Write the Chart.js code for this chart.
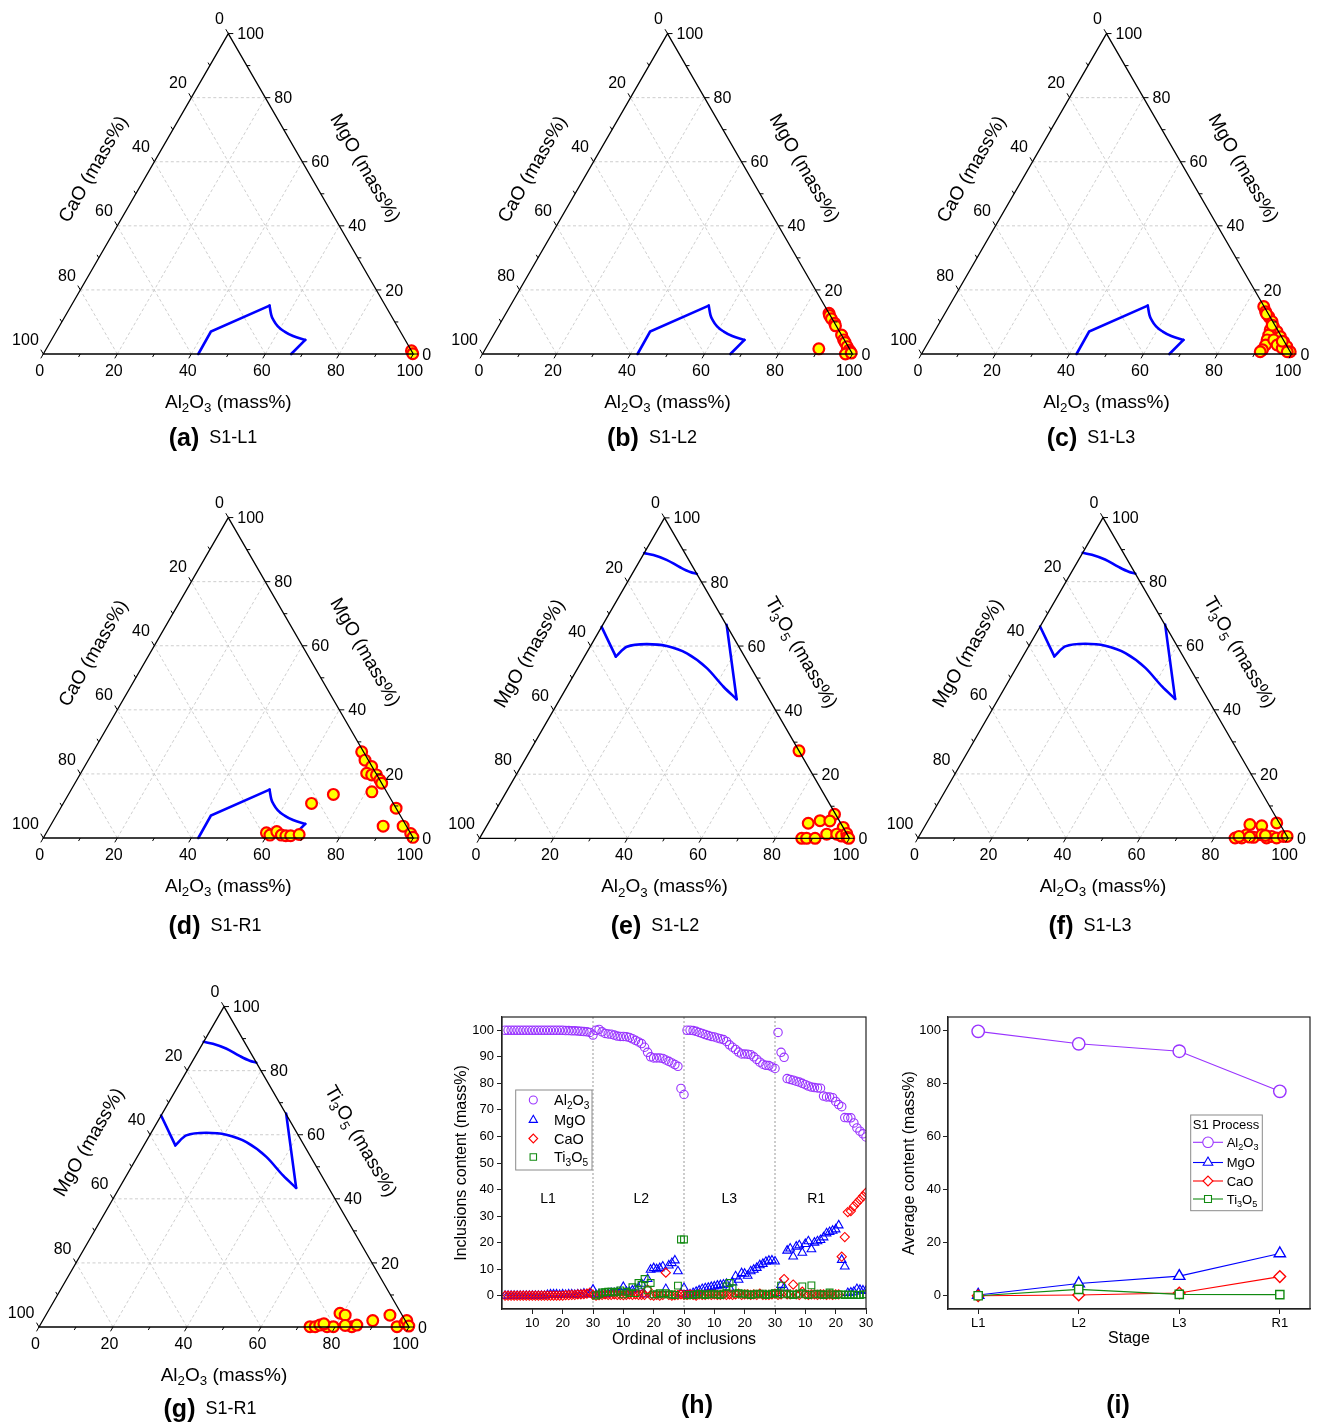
<!DOCTYPE html>
<html><head><meta charset="utf-8">
<script src="https://cdn.jsdelivr.net/npm/chart.js@4.4.1/dist/chart.umd.min.js"></script>
<style>
html,body{margin:0;padding:0;background:#fff;}
body{width:1325px;height:1422px;position:relative;overflow:hidden;}
canvas{position:absolute;}
</style></head><body>
<canvas id="ta"></canvas><canvas id="tb"></canvas><canvas id="tc"></canvas>
<canvas id="td"></canvas><canvas id="te"></canvas><canvas id="tf"></canvas>
<canvas id="tg"></canvas><canvas id="ch"></canvas><canvas id="ci"></canvas>
<script>
// ================= DATA =================
const ternTicks = [0, 20, 40, 60, 80, 100];
const ternGrid = [20, 40, 60, 80];

// liquid region, Al2O3-MgO-CaO system (Al2O3 / MgO, CaO = rest)
const caoBoundary_Al2O3 = [41.9, 41.8, 53.6, 55.5, 57.0, 59.1, 61.7, 64.7, 68.6, 67.0];
const caoBoundary_MgO   = [0, 7.0, 15.1, 12.2, 10.5, 8.6, 7.0, 5.6, 4.4, 0];
// liquid regions, Al2O3-MgO-Ti3O5 system (Al2O3 / Ti3O5, MgO = rest)
const tiUpper_Al2O3 = [0, 2.8, 7.1, 11.9, 15.4, 17.5];
const tiUpper_Ti3O5 = [89.0, 88.4, 86.9, 84.6, 83.1, 82.5];
const tiLower_Al2O3 = [0, 8.5, 9.9, 14.9, 20.6, 27.2, 34.9, 42.3, 47.8, 33.5];
const tiLower_Ti3O5 = [66.0, 56.7, 59.8, 60.6, 60.0, 57.7, 53.1, 47.3, 43.4, 66.6];

// (a) S1-L1
const a_Al2O3 = [99.0, 99.8];
const a_MgO   = [1.0, 0.1];
// (b) S1-L2
const b_Al2O3 = [87.3, 87.8, 88.8, 90.4, 91.0, 94.1, 95.4, 96.2, 97.4, 98.5, 99.1, 98.1, 99.5, 90.1];
const b_MgO   = [12.7, 12.0, 11.0, 9.6, 8.8, 5.9, 4.4, 3.6, 2.3, 1.2, 0.7, 0.0, 0.3, 1.6];
// (c) S1-L3
const c_Al2O3 = [85.1, 86.4, 88.1, 89.7, 90.9, 92.6, 94.3, 96.0, 97.6, 99.3, 90.5, 90.9, 91.2, 91.6, 91.5, 91.2, 93.0, 94.7, 96.6, 98.5, 90.3, 87.0, 95.5];
const c_MgO   = [14.8, 13.2, 11.6, 10.1, 8.5, 7.0, 5.4, 3.8, 2.3, 0.7, 7.5, 5.9, 4.4, 2.8, 1.3, 0.7, 4.4, 2.8, 1.8, 0.7, 9.0, 12.5, 4.0];
// (d) S1-R1
const d_Al2O3 = [72.6, 74.8, 77.6, 77.3, 78.9, 80.2, 81.9, 82.9, 81.6, 90.7, 90.0, 95.4, 98.6, 99.8, 67.1, 71.6, 59.5, 60.8, 62.1, 63.9, 65.2, 66.5, 68.6];
const d_MgO   = [26.9, 24.3, 22.3, 20.2, 19.7, 19.7, 18.1, 17.1, 14.4, 9.3, 3.7, 3.7, 1.4, 0.2, 10.8, 13.6, 1.6, 0.9, 2.0, 0.9, 0.7, 0.7, 1.1];
// (e) S1-L2
const e_Al2O3 = [72.7, 92.2, 86.5, 89.3, 92.0, 96.6, 93.2, 95.9, 87.1, 88.4, 90.7, 97.5, 98.5, 99.2, 99.8];
const e_Ti3O5 = [27.3, 7.5, 4.7, 5.5, 5.4, 3.4, 1.3, 1.3, 0.0, 0.0, 0.0, 0.7, 1.5, 0.3, 0.0];
// (f) S1-L3
const f_Al2O3 = [85.7, 87.5, 88.3, 87.6, 91.0, 90.6, 92.4, 94.2, 95.3, 96.9, 98.5, 99.5, 94.6, 86.5, 89.5, 93.5];
const f_Ti3O5 = [0.0, 0.0, 1.0, 4.2, 3.8, 0.2, 1.0, 0.0, 0.5, 0.0, 0.5, 0.5, 4.7, 0.5, 0.3, 0.8];
// (g) S1-R1
const g_Al2O3 = [73.2, 74.6, 75.6, 77.8, 79.5, 79.2, 80.9, 84.5, 85.6, 89.2, 93.0, 96.7, 98.3, 98.4, 99.8, 76.5, 82.5];
const g_Ti3O5 = [0.1, 0.1, 0.6, 0.1, 0.1, 4.3, 3.7, 0.1, 0.6, 2.0, 3.7, 0.1, 1.2, 2.0, 0.3, 1.0, 0.5];

// (h) inclusions content, 30 inclusions per stage
const L1_Al2O3 = [100,100,100,100,100,100,100,100,100,100,100,100,100,100,100,100,100,100,100,100,99.9,99.9,99.8,99.8,99.7,99.6,99.5,99.4,99.2,98.2];
const L1_MgO   = [0,0,0,0,0,0,0,0,0,0,0,0,0,0,0.3,0.5,0.5,0.5,0.3,0.5,0.3,0.5,0.5,0.3,0.5,0.5,0.8,0.5,0.8,2.3];
const L1_CaO   = [0,0,0,0,0,0,0,0,0,0,0,0,0,0,0,0,0,0,0,0,0.2,0.2,0.3,0.3,0.5,0.5,0.6,0.8,1.2,0.3];
const L1_Ti3O5 = [null,null,null,null,null,null,null,null,null,null,null,null,null,null,null,null,null,null,null,null,null,null,null,null,null,null,null,null,null,null];
const L2_Al2O3 = [100.0,100.3,99.4,98.8,98.6,98.5,98.2,97.8,97.7,97.7,97.6,97.3,96.8,96.2,95.6,95.0,93.6,91.7,90.0,89.6,89.6,89.6,89.4,88.8,88.3,87.7,87.1,86.4,78.1,75.8];
const L2_MgO   = [0.3,0.5,0.5,0.5,0.8,1.0,1.0,1.2,1.5,3.3,1.5,1.5,2.0,2.5,3.0,4.5,0.5,6.3,9.8,10.4,10.0,10.4,11.0,2.5,11.4,12.3,13.3,9.2,0.8,2.9];
const L2_CaO   = [0,0.2,0.3,0.5,0.3,0.3,0.5,0.3,0.3,0.2,0.3,0.5,0.3,0.5,0.3,0.3,0.3,2.3,0.2,0,0.3,0,0.3,8.7,0.3,0,0.2,0.3,0.5,0.3];
const L2_Ti3O5 = [0.1,0.5,1.2,1.3,1.5,1.5,1.2,1.5,2.0,0.5,1.5,1.0,3.2,1.0,4.8,4.1,6.3,2.0,4.8,0.5,0.5,1.0,0.5,1.0,0.5,0.5,0.3,3.8,21.2,21.2];
const L3_Al2O3 = [100.0,100.0,99.9,99.6,99.2,98.8,98.4,98.0,97.7,97.5,97.1,96.8,96.5,95.8,94.5,93.6,92.8,91.8,91.1,91.1,91.0,90.8,90.0,89.0,88.0,87.2,86.8,86.7,86.2,85.6];
const L3_MgO   = [0.3,0.5,1.0,1.5,2.0,2.5,2.8,3.0,3.3,3.5,3.8,4.0,4.2,4.5,3.0,5.0,7.3,6.0,8.5,8.3,7.5,9.2,9.8,10.5,11.5,12.0,12.8,13.2,13.3,12.9];
const L3_CaO   = [0.3,0.5,0.3,0,0.5,0.3,0.3,0.5,0.3,0.5,0.3,0.3,0.5,0.3,0.5,0.3,0.5,0.8,0.3,0.5,0.5,0.3,0.5,0.3,0.8,0.3,0.3,0.3,0.5,0.8];
const L3_Ti3O5 = [0.2,0.3,0.3,0.5,0.8,0.5,0.3,0.5,0.8,0.5,0.5,0.3,0.8,3.5,4.8,2.8,0.8,1.0,0.5,0.8,0.5,0.3,0.5,0.8,0.5,0.8,0.3,0.5,0.8,1.0];
const R1_Al2O3 = [99.2,91.7,89.8,81.8,81.5,81.2,80.8,80.5,80.0,79.5,79.0,78.6,78.4,78.3,78.2,75.2,74.9,74.9,74.6,73.2,72.0,71.2,67.1,67.0,67.0,65.1,63.2,62.0,61.0,59.8];
const R1_MgO   = [1.0,4.1,3.0,17.0,17.8,14.8,18.5,19.0,16.2,19.5,20.5,17.5,20.0,20.5,21.0,22.0,23.5,24.0,24.5,25.0,26.5,13.5,11.0,1.0,1.2,1.5,2.5,2.2,2.0,1.8];
const R1_CaO   = [0.3,0.5,6.3,0.5,0.5,4.2,0.5,0.3,1.5,0.5,0.3,0.5,0.5,0.3,0.5,0.5,0.3,0.5,0.3,0.5,0.5,14.7,22.1,31.5,31.9,33.7,35.0,36.2,37.5,38.8];
const R1_Ti3O5 = [0.5,3.8,0.5,0.8,0.5,0.3,0.5,0.8,3.5,0.5,0.3,3.9,0.5,0.8,0.5,0.3,0.5,1.2,0.5,0.3,0.5,0.5,0.3,0.5,0.3,0.5,0.3,0.3,0.5,0.5];
const stageNames = ['L1', 'L2', 'L3', 'R1'];
const ordinalTicks = [10, 20, 30];
const contentTicks = [0, 10, 20, 30, 40, 50, 60, 70, 80, 90, 100];

// (i) average content per stage
const avg_Al2O3 = [99.6, 94.9, 92.1, 77.0];
const avg_MgO   = [0.3, 4.6, 7.4, 15.9];
const avg_CaO   = [0.0, 0.3, 1.0, 7.2];
const avg_Ti3O5 = [0.0, 2.4, 0.5, 0.4];
const averageTicks = [0, 20, 40, 60, 80, 100];

// ================= DRAWING =================
const FONT = '"Liberation Sans", Arial, Helvetica, sans-serif';
Chart.defaults.font.family = FONT;
Chart.defaults.color = '#000';
const H3 = Math.sqrt(3) / 2;
const COL = {al: '#9933ff', mg: '#0000ff', ca: '#ff0000', ti: '#118a11'};

function mkCanvas(id, box) {
  const c = document.getElementById(id);
  c.width = box[2]; c.height = box[3];
  c.style.left = box[0] + 'px'; c.style.top = box[1] + 'px';
  c.style.width = box[2] + 'px'; c.style.height = box[3] + 'px';
  return c;
}
function segs(text) {
  const out = []; let cur = '', i = 0;
  while (i < text.length) {
    if (text[i] === '_') { if (cur) out.push({t: cur, sub: false}); cur = ''; out.push({t: text[i + 1], sub: true}); i += 2; }
    else { cur += text[i]; i++; }
  }
  if (cur) out.push({t: cur, sub: false});
  return out;
}
function drawRich(ctx, text, x, y, size, o) {
  o = o || {};
  const s = segs(text), w = o.bold ? 'bold ' : '', sub = size * 0.7;
  const ws = s.map(p => { ctx.font = w + (p.sub ? sub : size) + 'px ' + FONT; return ctx.measureText(p.t).width; });
  const tot = ws.reduce((a, b) => a + b, 0);
  ctx.save(); ctx.translate(x, y); if (o.rot) ctx.rotate(o.rot);
  let sx = o.align === 'left' ? 0 : o.align === 'right' ? -tot : -tot / 2;
  ctx.textBaseline = 'alphabetic'; ctx.textAlign = 'left'; ctx.fillStyle = o.color || '#000';
  s.forEach((p, i) => {
    ctx.font = w + (p.sub ? sub : size) + 'px ' + FONT;
    ctx.fillText(p.t, sx, size * 0.35 + (p.sub ? size * 0.25 : 0));
    sx += ws[i];
  });
  ctx.restore();
  return tot;
}
function drawTag(ctx, tag, name, cx, cy) {
  ctx.font = 'bold 25px ' + FONT; const w1 = ctx.measureText(tag).width;
  let w2 = 0; if (name) { ctx.font = '18px ' + FONT; w2 = ctx.measureText(name).width; }
  const gap = name ? 10 : 0, tot = w1 + gap + w2, x0 = cx - tot / 2;
  drawRich(ctx, tag, x0, cy, 25, {align: 'left', bold: true});
  if (name) drawRich(ctx, name, x0 + w1 + gap, cy, 18, {align: 'left'});
}
function cart(a, t) { return {x: a + t / 2, y: t * H3}; }
function pix(chart, a, t) { const c = cart(a, t); return [chart.scales.x.getPixelForValue(c.x), chart.scales.y.getPixelForValue(c.y)]; }
function ln(ctx, p, q) { ctx.beginPath(); ctx.moveTo(p[0], p[1]); ctx.lineTo(q[0], q[1]); ctx.stroke(); }

function ternaryPlugin(spec) {
  return {
    id: 'tern_' + spec.id,
    beforeDatasetsDraw(chart) {
      const ctx = chart.ctx, P = (a, t) => pix(chart, a, t);
      ctx.save(); ctx.strokeStyle = '#c2c2c2'; ctx.lineWidth = 0.8; ctx.setLineDash([3, 2.5]);
      ternGrid.forEach(v => { ln(ctx, P(0, v), P(100 - v, v)); ln(ctx, P(v, 0), P(v, 100 - v)); ln(ctx, P(100 - v, 0), P(0, 100 - v)); });
      ctx.restore();
    },
    afterDatasetsDraw(chart) {
      const ctx = chart.ctx, P = (a, t) => pix(chart, a, t);
      ctx.save(); ctx.setLineDash([]); ctx.strokeStyle = '#000'; ctx.lineWidth = 1.3;
      const A = P(0, 0), B = P(100, 0), C = P(0, 100);
      ctx.beginPath(); ctx.moveTo(A[0], A[1]); ctx.lineTo(B[0], B[1]); ctx.lineTo(C[0], C[1]); ctx.closePath(); ctx.stroke();
      ctx.lineWidth = 1;
      for (let v = 0; v <= 100; v += 10) {
        const L = v % 20 === 0 ? 5 : 3.5;
        let q = P(v, 0); ln(ctx, q, [q[0] - 0.5 * L, q[1] + H3 * L]);
        q = P(0, 100 - v); ln(ctx, q, [q[0] - 0.5 * L, q[1] - H3 * L]);
        q = P(100 - v, v); ln(ctx, q, [q[0] + L, q[1]]);
      }
      ternTicks.forEach(v => {
        let q = P(v, 0); drawRich(ctx, String(v), q[0] - 3.5, q[1] + 16, 16, {align: 'center'});
        q = P(0, 100 - v); drawRich(ctx, String(v), q[0] - 4.5, q[1] - 15, 16, {align: 'right'});
        q = P(100 - v, v); drawRich(ctx, String(v), q[0] + 9, q[1], 16, {align: 'left'});
      });
      let m = P(50, 0); drawRich(ctx, 'Al_2O_3 (mass%)', m[0], m[1] + 47, 19, {align: 'center'});
      m = P(0, 50); drawRich(ctx, spec.leftTitle, m[0] - H3 * 50, m[1] - 25, 19, {align: 'center', rot: -Math.PI / 3});
      m = P(50, 50); drawRich(ctx, spec.rightTitle, m[0] + H3 * 52, m[1] - 26, 19, {align: 'center', rot: Math.PI / 3});
      drawTag(ctx, spec.tag, spec.name, spec.tagPos[0] - spec.box[0], spec.tagPos[1] - spec.box[1]);
      ctx.restore();
    }
  };
}

function buildTernary(spec) {
  const cv = mkCanvas(spec.id, spec.box);
  const k = spec.side / 100;
  const xmin = (spec.box[0] - spec.BL[0]) / k, xmax = xmin + spec.box[2] / k;
  const ymax = (spec.BL[1] - spec.box[1]) / k, ymin = ymax - spec.box[3] / k;
  const datasets = [];
  // each curve: [Al2O3 array, top-component array, [[from, to, smooth], ...]]
  spec.curves.forEach(c => c[2].forEach(part => {
    const pts = [];
    for (let i = part[0]; i <= part[1]; i++) pts.push(cart(c[0][i], c[1][i]));
    datasets.push({
      data: pts, showLine: true, pointRadius: 0, borderColor: '#0000ff', borderWidth: 2.6,
      tension: part[2] ? 0.4 : 0, cubicInterpolationMode: part[2] ? 'monotone' : 'default',
      borderCapStyle: 'round', borderJoinStyle: 'miter', order: 2
    });
  }));
  datasets.push({
    data: spec.al.map((a, i) => cart(a, spec.top[i])), showLine: false,
    pointRadius: 5.4, pointBorderWidth: 2.2, pointBackgroundColor: '#ffff00', pointBorderColor: '#ff0000',
    backgroundColor: '#ffff00', borderColor: '#ff0000', order: 1
  });
  new Chart(cv, {
    type: 'scatter', data: {datasets},
    options: {
      responsive: false, animation: false, events: [], layout: {padding: 0, autoPadding: false},
      plugins: {legend: {display: false}, tooltip: {enabled: false}},
      scales: {x: {type: 'linear', display: false, min: xmin, max: xmax}, y: {type: 'linear', display: false, min: ymin, max: ymax}}
    },
    plugins: [ternaryPlugin(spec)]
  });
}

const caoCurves = [[caoBoundary_Al2O3, caoBoundary_MgO, [[0, 2, false], [2, 8, true], [8, 9, false]]]];
const tiCurves = [
  [tiUpper_Al2O3, tiUpper_Ti3O5, [[0, 5, true]]],
  [tiLower_Al2O3, tiLower_Ti3O5, [[0, 1, false], [1, 8, true], [8, 9, false]]]
];
const caoT = {leftTitle: 'CaO (mass%)', rightTitle: 'MgO (mass%)', curves: caoCurves};
const tiT = {leftTitle: 'MgO (mass%)', rightTitle: 'Ti_3O_5 (mass%)', curves: tiCurves};
[
  Object.assign({id: 'ta', box: [0, 0, 440, 475], BL: [43.3, 354], side: 370, al: a_Al2O3, top: a_MgO, tag: '(a)', name: 'S1-L1', tagPos: [213, 437]}, caoT),
  Object.assign({id: 'tb', box: [440, 0, 440, 475], BL: [482.5, 354], side: 370, al: b_Al2O3, top: b_MgO, tag: '(b)', name: 'S1-L2', tagPos: [652, 437]}, caoT),
  Object.assign({id: 'tc', box: [880, 0, 445, 475], BL: [921.5, 354], side: 370, al: c_Al2O3, top: c_MgO, tag: '(c)', name: 'S1-L3', tagPos: [1091, 437]}, caoT),
  Object.assign({id: 'td', box: [0, 480, 440, 485], BL: [43.3, 838], side: 370, al: d_Al2O3, top: d_MgO, tag: '(d)', name: 'S1-R1', tagPos: [215, 925]}, caoT),
  Object.assign({id: 'te', box: [440, 480, 440, 485], BL: [479.5, 838.3], side: 370, al: e_Al2O3, top: e_Ti3O5, tag: '(e)', name: 'S1-L2', tagPos: [655, 925]}, tiT),
  Object.assign({id: 'tf', box: [880, 480, 445, 485], BL: [918, 838], side: 370, al: f_Al2O3, top: f_Ti3O5, tag: '(f)', name: 'S1-L3', tagPos: [1090, 925]}, tiT),
  Object.assign({id: 'tg', box: [0, 968, 440, 454], BL: [39, 1327], side: 370, al: g_Al2O3, top: g_Ti3O5, tag: '(g)', name: 'S1-R1', tagPos: [210, 1408]}, tiT)
].forEach(buildTernary);

// ---------- (h) ----------
const hSeries = [
  {name: 'Al_2O_3', col: COL.al, style: 'circle', r: 4.2, vals: [L1_Al2O3, L2_Al2O3, L3_Al2O3, R1_Al2O3], order: 3},
  {name: 'MgO', col: COL.mg, style: 'triangle', r: 5, vals: [L1_MgO, L2_MgO, L3_MgO, R1_MgO], order: 2},
  {name: 'CaO', col: COL.ca, style: 'rectRot', r: 4.6, vals: [L1_CaO, L2_CaO, L3_CaO, R1_CaO], order: 1},
  {name: 'Ti_3O_5', col: COL.ti, style: 'rect', r: 4.8, vals: [L1_Ti3O5, L2_Ti3O5, L3_Ti3O5, R1_Ti3O5], order: 0}
];
const perStage = L1_Al2O3.length;
function seriesPoints(vals) {
  const pts = [];
  vals.forEach((arr, s) => arr.forEach((v, i) => { if (v !== null) pts.push({x: s * perStage + i + 1, y: v}); }));
  return pts;
}
function frameDraw(chart) {
  const ctx = chart.ctx, a = chart.chartArea;
  ctx.save(); ctx.strokeStyle = '#222'; ctx.lineWidth = 1.2; ctx.setLineDash([]);
  ctx.strokeRect(a.left, a.top, a.right - a.left, a.bottom - a.top); ctx.restore();
}
function drawLegendMarker(ctx, style, x, y, r, col, fill) {
  ctx.save(); ctx.strokeStyle = col; ctx.fillStyle = fill; ctx.lineWidth = 1.1;
  Chart.helpers.drawPoint(ctx, {pointStyle: style, radius: r, borderWidth: 1.1, rotation: 0}, x, y);
  ctx.restore();
}
const hBox = [440, 1000, 440, 422];
const hPlugin = {
  id: 'hplug',
  beforeDatasetsDraw(chart) {
    const ctx = chart.ctx, xs = chart.scales.x, a = chart.chartArea;
    ctx.save(); ctx.strokeStyle = '#9a9a9a'; ctx.lineWidth = 1; ctx.setLineDash([2, 2]);
    for (let s = 1; s < stageNames.length; s++) { const x = xs.getPixelForValue(s * perStage); ln(ctx, [x, a.top], [x, a.bottom]); }
    ctx.restore();
  },
  afterDraw(chart) {
    const ctx = chart.ctx, xs = chart.scales.x, ys = chart.scales.y;
    frameDraw(chart);
    const labX = [15.2, 45.9, 74.9, 103.6];
    stageNames.forEach((n, s) => drawRich(ctx, n, xs.getPixelForValue(labX[s]), ys.getPixelForValue(36.7), 14, {align: 'center'}));
    const L = 515.7 - hBox[0], T = 1090 - hBox[1];
    ctx.save(); ctx.fillStyle = '#fff'; ctx.strokeStyle = '#8a8a8a'; ctx.lineWidth = 1;
    ctx.fillRect(L, T, 76.3, 80); ctx.strokeRect(L, T, 76.3, 80); ctx.restore();
    const rows = [1100, 1120, 1138.5, 1157];
    hSeries.forEach((s, i) => {
      drawLegendMarker(ctx, s.style, 533.3 - hBox[0], rows[i] - hBox[1], s.r * 0.95, s.col, 'rgba(0,0,0,0)');
      drawRich(ctx, s.name, 554 - hBox[0], rows[i] - hBox[1], 14.5, {align: 'left'});
    });
    drawTag(ctx, '(h)', '', 697 - hBox[0], 1404 - hBox[1]);
  }
};
new Chart(mkCanvas('ch', hBox), {
  type: 'scatter',
  data: {datasets: hSeries.map(s => ({
    data: seriesPoints(s.vals), pointStyle: s.style, pointRadius: s.r, pointBorderWidth: 1.1,
    pointBorderColor: s.col, borderColor: s.col, pointBackgroundColor: 'rgba(0,0,0,0)', backgroundColor: 'rgba(0,0,0,0)', order: s.order
  }))},
  options: {
    responsive: false, animation: false, events: [],
    layout: {padding: {left: 0, top: 17, right: 14, bottom: 68}, autoPadding: false},
    plugins: {legend: {display: false}, tooltip: {enabled: false}},
    scales: {
      x: {type: 'linear', min: 0, max: perStage * stageNames.length,
        afterFit: ax => { ax.height = 45; },
        afterBuildTicks: ax => {
          const t = [];
          stageNames.forEach((n, s) => ordinalTicks.forEach(v => t.push({value: s * perStage + v})));
          ax.ticks = t;
        },
        ticks: {autoSkip: false, maxRotation: 0, padding: 2, font: {size: 13},
          callback: v => ordinalTicks[Math.round(((v - 10) % perStage) / 10)]},
        grid: {drawOnChartArea: false, drawTicks: true, tickLength: 5, tickColor: '#222'},
        border: {display: true, color: '#222', width: 1.2},
        title: {display: true, text: 'Ordinal of inclusions', font: {size: 16}, padding: {top: 0, bottom: 5}}},
      y: {type: 'linear', min: -5, max: 105,
        afterFit: ax => { ax.width = 62; },
        afterBuildTicks: ax => { ax.ticks = contentTicks.map(v => ({value: v})); },
        ticks: {padding: 3, font: {size: 13}},
        grid: {drawOnChartArea: false, drawTicks: true, tickLength: 5, tickColor: '#222'},
        border: {display: true, color: '#222', width: 1.2},
        title: {display: true, text: 'Inclusions content (mass%)', font: {size: 16}, padding: {top: 12, bottom: 0}}}
    }
  },
  plugins: [hPlugin]
});

// ---------- (i) ----------
const iSeries = [
  {name: 'Al_2O_3', col: COL.al, style: 'circle', r: 6.2, vals: avg_Al2O3, order: 3},
  {name: 'MgO', col: COL.mg, style: 'triangle', r: 6.5, vals: avg_MgO, order: 2},
  {name: 'CaO', col: COL.ca, style: 'rectRot', r: 5.8, vals: avg_CaO, order: 1},
  {name: 'Ti_3O_5', col: COL.ti, style: 'rect', r: 5.8, vals: avg_Ti3O5, order: 0}
];
const iBox = [880, 1000, 445, 422];
const iPlugin = {
  id: 'iplug',
  afterDraw(chart) {
    const ctx = chart.ctx;
    frameDraw(chart);
    const L = 1190.7 - iBox[0], T = 1115 - iBox[1];
    ctx.save(); ctx.fillStyle = '#fff'; ctx.strokeStyle = '#8a8a8a'; ctx.lineWidth = 1;
    ctx.fillRect(L, T, 71.6, 95.7); ctx.strokeRect(L, T, 71.6, 95.7); ctx.restore();
    drawRich(ctx, 'S1 Process', 1226 - iBox[0], 1124.3 - iBox[1], 13, {align: 'center'});
    const rows = [1142.3, 1162.5, 1181, 1199];
    iSeries.forEach((s, i) => {
      const y = rows[i] - iBox[1];
      ctx.save(); ctx.strokeStyle = s.col; ctx.lineWidth = 1.1; ln(ctx, [1193 - iBox[0], y], [1223 - iBox[0], y]); ctx.restore();
      drawLegendMarker(ctx, s.style, 1208 - iBox[0], y, s.r * 0.85, s.col, '#fff');
      drawRich(ctx, s.name, 1226.7 - iBox[0], y, 13, {align: 'left'});
    });
    drawTag(ctx, '(i)', '', 1118 - iBox[0], 1404 - iBox[1]);
  }
};
new Chart(mkCanvas('ci', iBox), {
  type: 'scatter',
  data: {datasets: iSeries.map(s => ({
    data: s.vals.map((v, i) => ({x: i + 1, y: v})), showLine: true, borderWidth: 1.1,
    borderColor: s.col, pointStyle: s.style, pointRadius: s.r, pointBorderWidth: 1.4,
    pointBorderColor: s.col, pointBackgroundColor: '#fff', backgroundColor: '#fff', order: s.order, tension: 0
  }))},
  options: {
    responsive: false, animation: false, events: [],
    layout: {padding: {left: 0, top: 17, right: 15, bottom: 68}, autoPadding: false},
    plugins: {legend: {display: false}, tooltip: {enabled: false}},
    scales: {
      x: {type: 'linear', min: 0.7, max: stageNames.length + 0.3,
        afterFit: ax => { ax.height = 45; },
        afterBuildTicks: ax => { ax.ticks = stageNames.map((n, i) => ({value: i + 1})); },
        ticks: {autoSkip: false, maxRotation: 0, padding: 2, font: {size: 13}, callback: v => stageNames[v - 1]},
        grid: {drawOnChartArea: false, drawTicks: true, tickLength: 5, tickColor: '#222'},
        border: {display: true, color: '#222', width: 1.2},
        title: {display: true, text: 'Stage', font: {size: 16}, padding: {top: 0, bottom: 6}}},
      y: {type: 'linear', min: -5, max: 105,
        afterFit: ax => { ax.width = 68; },
        afterBuildTicks: ax => { ax.ticks = averageTicks.map(v => ({value: v})); },
        ticks: {padding: 2, font: {size: 13}},
        grid: {drawOnChartArea: false, drawTicks: true, tickLength: 5, tickColor: '#222'},
        border: {display: true, color: '#222', width: 1.2},
        title: {display: true, text: 'Average content (mass%)', font: {size: 16}, padding: {top: 20, bottom: 0}}}
    }
  },
  plugins: [iPlugin]
});
</script>
</body></html>
